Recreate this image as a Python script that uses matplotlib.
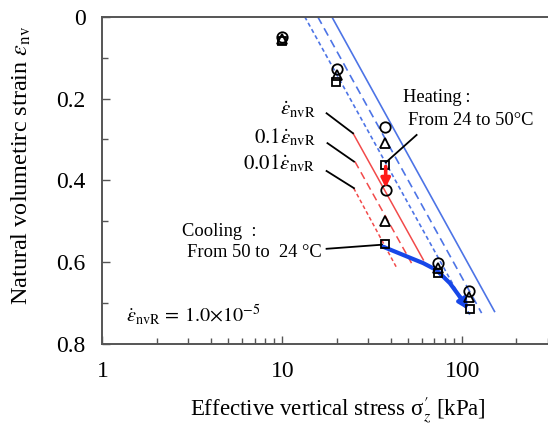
import matplotlib
matplotlib.use("Agg")
import matplotlib.pyplot as plt
from matplotlib.ticker import MultipleLocator, LogLocator, NullFormatter, FixedLocator

plt.rcParams['font.family'] = ['Liberation Serif', 'DejaVu Serif']
plt.rcParams['mathtext.fontset'] = 'stix'

# measured points (open markers) -- effective vertical stress [kPa] vs strain
circle_stress = [9.9, 20.0, 37.4, 37.6, 73.4, 109.0]
circle_strain = [0.050, 0.128, 0.269, 0.423, 0.601, 0.669]
triangle_stress = [9.9, 20.0, 37.4, 37.4, 73.4, 109.0]
triangle_strain = [0.054, 0.142, 0.309, 0.500, 0.614, 0.685]
square_stress = [9.9, 19.8, 37.2, 37.0, 73.0, 110.0]
square_strain = [0.059, 0.159, 0.362, 0.556, 0.627, 0.714]

# reference compression lines at 24 C (blue) and 50 C (red): start / end
blue_solid_x = [18.8, 151.0]
blue_solid_y = [0.0, 0.720]
blue_dashed_x = [15.7, 128.0]
blue_dashed_y = [0.0, 0.724]
blue_dotted_x = [13.3, 110.0]
blue_dotted_y = [0.0, 0.728]
red_solid_x = [24.7, 60.7]
red_solid_y = [0.285, 0.594]
red_dashed_x = [25.3, 52.2]
red_dashed_y = [0.354, 0.602]
red_dotted_x = [24.9, 43.0]
red_dotted_y = [0.419, 0.612]

# path followed during cooling and reloading
cool_x = [36.3, 46.9, 60.6, 71.9, 85.3, 96.8, 107.7]
cool_y = [0.562, 0.582, 0.602, 0.619, 0.651, 0.684, 0.716]

fig = plt.figure(figsize=(5.48, 4.26), dpi=100)
ax = fig.add_axes([0.187, 0.192, 0.985, 0.769])
ax.set_xscale('log')
ax.set_xlim(1, 1000)
ax.set_ylim(0.8, 0.0)

blue = '#4d74e6'
red = '#f24a4a'
ax.plot(blue_solid_x, blue_solid_y, color=blue, lw=1.2, ls='-')
ax.plot(blue_dashed_x, blue_dashed_y, color=blue, lw=1.2, ls=(0, (5, 3)))
ax.plot(blue_dotted_x, blue_dotted_y, color=blue, lw=1.2, ls=(0, (2.5, 1.8)))
ax.plot(red_solid_x, red_solid_y, color=red, lw=1.1, ls='-')
ax.plot(red_dashed_x, red_dashed_y, color=red, lw=1.1, ls=(0, (5, 3)))
ax.plot(red_dotted_x, red_dotted_y, color=red, lw=1.1, ls=(0, (2.5, 1.8)))

# cooling path with arrow head
ax.plot(cool_x[:-1], cool_y[:-1], color='#1747e8', lw=3.0,
        solid_capstyle='round', solid_joinstyle='round', zorder=3)
ax.annotate('', xy=(cool_x[-1], cool_y[-1]), xytext=(cool_x[-2], cool_y[-2]),
            arrowprops=dict(arrowstyle='-|>', color='#1747e8', lw=3.0,
                            mutation_scale=14, shrinkA=0, shrinkB=0), zorder=3)

mk = dict(ls='none', mfc='none', mec='black', mew=1.3, zorder=4)
ax.plot(circle_stress, circle_strain, marker='o', ms=7.5, **mk)
ax.plot(triangle_stress, triangle_strain, marker='^', ms=7.5, **mk)
ax.plot(square_stress, square_strain, marker='s', ms=5.5, **mk)

# heating step
ax.annotate('', xy=(37.5, 0.418), xytext=(37.5, 0.366),
            arrowprops=dict(arrowstyle='-|>', color='#ff1a1a', lw=2.6,
                            mutation_scale=13, shrinkA=0, shrinkB=0), zorder=5)

# leader lines for the rate labels and the notes
lead = dict(color='black', lw=1.3)
ax.plot([17.6, 24.7], [0.236, 0.285], **lead)
ax.plot([17.8, 25.0], [0.309, 0.354], **lead)
ax.plot([17.6, 25.0], [0.377, 0.419], **lead)
ax.plot([55.7, 37.6], [0.289, 0.356], **lead)
ax.plot([17.6, 35.8], [0.567, 0.557], **lead)

ax.text(15.3, 0.228, r'$\dot{\varepsilon}_{\mathrm{nvR}}$', fontsize=15,
        ha='right', va='center')
ax.text(15.3, 0.294, r'$0.1\dot{\varepsilon}_{\mathrm{nvR}}$', fontsize=15,
        ha='right', va='center')
ax.text(15.3, 0.358, r'$0.01\dot{\varepsilon}_{\mathrm{nvR}}$', fontsize=15,
        ha='right', va='center')

ax.text(46.7, 0.197, 'Heating\u2009:', fontsize=13.3, ha='left', va='center')
ax.text(49.8, 0.254, 'From 24 to 50\u00b0C', fontsize=13.3, ha='left', va='center')
ax.text(2.77, 0.525, 'Cooling  :', fontsize=13.3, ha='left', va='center')
ax.text(2.95, 0.577, 'From 50 to  24 \u00b0C', fontsize=13.3, ha='left', va='center')
ax.text(1.35, 0.728, r'$\dot{\varepsilon}_{\mathrm{nvR}}\,=\,1.0{\times}10^{-5}$',
        fontsize=14.5, ha='left', va='center')

ax.set_yticks([0, 0.2, 0.4, 0.6, 0.8])
ax.set_yticklabels(['0', '0.2', '0.4', '0.6', '0.8'])
ax.yaxis.set_minor_locator(MultipleLocator(0.1))
ax.xaxis.set_major_locator(FixedLocator([1, 10, 100]))
ax.set_xticklabels(['1', '10', '100'])
ax.xaxis.set_minor_locator(LogLocator(base=10, subs=range(2, 10)))
ax.xaxis.set_minor_formatter(NullFormatter())

ax.tick_params(which='both', direction='in', color='#555555', width=1.0,
               labelsize=17, top=False, right=False)
ax.tick_params(which='major', length=6)
ax.tick_params(which='minor', length=4)
ax.tick_params(axis='x', pad=12)
ax.tick_params(axis='y', pad=12)
for side in ['left', 'bottom', 'top']:
    ax.spines[side].set_color('#555555')
    ax.spines[side].set_linewidth(1.4)
ax.spines['right'].set_visible(False)

ax.set_xlabel(r"Effective vertical stress σ$_{z}^{\prime}$ [kPa]", fontsize=16.5)
ax.xaxis.set_label_coords(0.436, -0.155)
ax.set_ylabel(r'Natural volumetirc strain $\varepsilon_{\mathrm{nv}}$', fontsize=17.5)
ax.yaxis.set_label_coords(-0.129, 0.546)

fig.savefig('out.png', dpi=100)
